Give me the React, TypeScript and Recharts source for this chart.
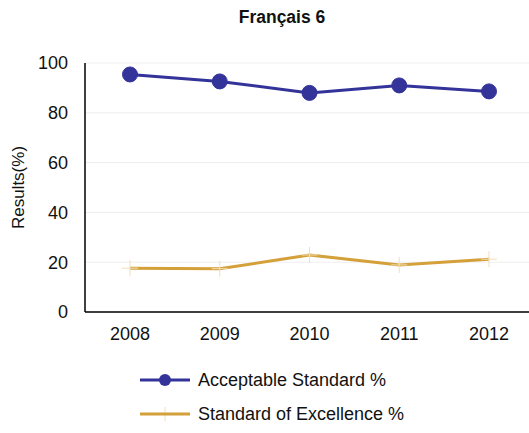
import { LineChart, Line, XAxis, YAxis, CartesianGrid, Legend } from 'recharts';

const years = ['2008', '2009', '2010', '2011', '2012'];
const acceptable = [95.4, 92.6, 88.0, 91.0, 88.6];
const excellence = [17.6, 17.4, 22.9, 18.9, 21.2];
const yTicks = [0, 20, 40, 60, 80, 100];

const BLUE = '#333399';
const GOLD = '#d4a03a';
const FONT = 'Liberation Sans, Arial, sans-serif';

const data = years.map((year, i) => ({
  year,
  acceptable: acceptable[i],
  excellence: excellence[i],
}));

// faint cross marker used by the excellence series
const CrossDot = (props: any) => {
  const { cx, cy } = props;
  if (cx == null || cy == null) return null;
  return (
    <g stroke="#f2dfb8" strokeWidth={1}>
      <line x1={cx - 8} y1={cy} x2={cx + 8} y2={cy} />
      <line x1={cx} y1={cy - 8} x2={cx} y2={cy + 8} />
    </g>
  );
};

const LegendContent = () => (
  <div style={{ fontFamily: FONT, fontSize: 18, color: '#111' }}>
    <div style={{ display: 'flex', alignItems: 'center', height: 34 }}>
      <svg width={52} height={16} style={{ marginRight: 6 }}>
        <line x1={0} y1={8} x2={50} y2={8} stroke={BLUE} strokeWidth={3} />
        <circle cx={25} cy={8} r={6} fill={BLUE} />
      </svg>
      Acceptable Standard %
    </div>
    <div style={{ display: 'flex', alignItems: 'center', height: 34 }}>
      <svg width={52} height={16} style={{ marginRight: 6 }}>
        <line x1={25} y1={1} x2={25} y2={15} stroke="#f2dfb8" strokeWidth={1} />
        <line x1={0} y1={8} x2={50} y2={8} stroke={GOLD} strokeWidth={3} />
      </svg>
      Standard of Excellence %
    </div>
  </div>
);

export default function App() {
  return (
    <div style={{ position: 'absolute', left: 0, top: 0, width: 529, height: 433, background: '#fff' }}>
      <div
        style={{
          position: 'absolute',
          top: 7,
          left: 0,
          width: 564,
          textAlign: 'center',
          fontFamily: FONT,
          fontWeight: 'bold',
          fontSize: 17.5,
          color: '#111',
        }}
      >
        Français 6
      </div>
      <LineChart
        width={529}
        height={433}
        data={data}
        margin={{ top: 63, right: 0, left: 0, bottom: 0 }}
      >
        <CartesianGrid vertical={false} stroke="#eeeeee" />
        <XAxis
          dataKey="year"
          height={34}
          padding={{ left: 45, right: 40 }}
          tickLine={false}
          axisLine={{ stroke: '#000', strokeWidth: 1.5 }}
          tickMargin={9}
          tick={{ fill: '#111', fontSize: 18, fontFamily: FONT }}
        />
        <YAxis
          domain={[0, 100]}
          ticks={yTicks}
          width={85}
          tickLine={false}
          axisLine={{ stroke: '#000', strokeWidth: 1.5 }}
          tickMargin={11}
          tick={{ fill: '#111', fontSize: 18, fontFamily: FONT }}
          label={{
            value: 'Results(%)',
            angle: -90,
            position: 'insideLeft',
            offset: 18,
            style: { textAnchor: 'middle', fill: '#111', fontSize: 17, fontFamily: FONT },
          }}
        />
        <Legend
          verticalAlign="bottom"
          height={87}
          content={<LegendContent />}
          wrapperStyle={{ left: 140, width: 320, top: 363, bottom: 'auto' }}
        />
        <Line
          type="linear"
          dataKey="acceptable"
          stroke={BLUE}
          strokeWidth={3}
          dot={{ r: 7.5, fill: BLUE, stroke: BLUE, strokeWidth: 1 }}
          isAnimationActive={false}
        />
        <Line
          type="linear"
          dataKey="excellence"
          stroke={GOLD}
          strokeWidth={3}
          dot={<CrossDot />}
          isAnimationActive={false}
        />
      </LineChart>
    </div>
  );
}
